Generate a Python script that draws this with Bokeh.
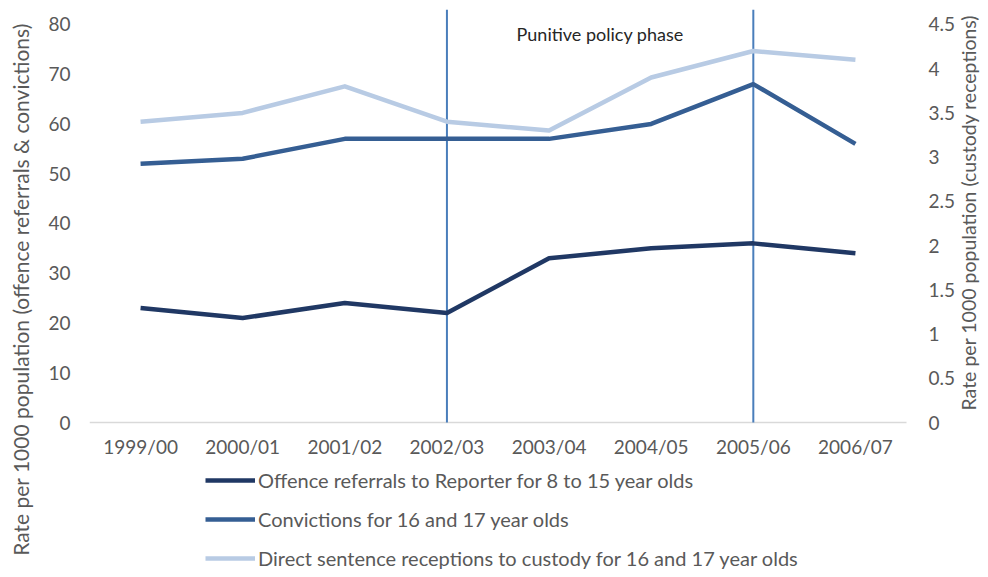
import math
from bokeh.plotting import figure
from bokeh.models import (Range1d, FixedTicker, Label, Legend, LegendItem)
from bokeh.embed import file_html
from bokeh.resources import INLINE
from bokeh.core.properties import value

# ---- data ----
years = ["1999/00", "2000/01", "2001/02", "2002/03",
         "2003/04", "2004/05", "2005/06", "2006/07"]
referrals = [23, 21, 24, 22, 33, 35, 36, 34]
convictions = [52, 53, 57, 57, 57, 60, 68, 56]
custody = [3.4, 3.5, 3.8, 3.4, 3.3, 3.9, 4.2, 4.1]
left_ticks = [0, 10, 20, 30, 40, 50, 60, 70, 80]
right_ticks = [0, 0.5, 1, 1.5, 2, 2.5, 3, 3.5, 4, 4.5]
right_tick_labels = ["0", "0.5", "1", "1.5", "2", "2.5", "3", "3.5", "4", "4.5"]
phase_bounds = ["2002/03", "2005/06"]
phase_label = "Punitive policy phase"
series_names = ["Offence referrals to Reporter for 8 to 15 year olds",
                "Convictions for 16 and 17 year olds",
                "Direct sentence receptions to custody for 16 and 17 year olds"]
left_title = "Rate per 1000 population (offence referrals & convictions)"
right_title = "Rate per 1000 population (custody receptions)"

FONT = "Lato"
GREY = "#595959"
W, H = 980, 569
TOP, LEFT = 9, 89
PLOT_W = 817                      # pixels occupied by the category slots
PLOT_H = 413                      # pixels between the top of the frame and the zero line
BELOW = H - TOP - PLOT_H          # room under the zero line (x labels + legend)
Y_TOP = 83.0
Y_BOT = -Y_TOP * BELOW / PLOT_H
R_SCALE = 4.5 / 80.0
N = len(years)
X_END = N * (W - LEFT) / PLOT_W

# category centres on a numeric scale (slot i is centred at i + 0.5)
xs = [i + 0.5 for i in range(N)]
phase_xs = [years.index(b) + 0.5 for b in phase_bounds]

p = figure(width=W, height=H, x_range=Range1d(0, X_END),
           y_range=Range1d(Y_BOT, Y_TOP), output_backend="svg",
           toolbar_location=None, min_border_left=LEFT, min_border_right=0,
           min_border_top=TOP, min_border_bottom=0)
p.outline_line_color = None
p.xgrid.grid_line_color = None
p.ygrid.grid_line_color = None
p.xaxis.visible = False
p.extra_y_ranges = {"r": Range1d(Y_BOT * R_SCALE, Y_TOP * R_SCALE)}

# left axis
ya = p.yaxis[0]
ya.ticker = FixedTicker(ticks=left_ticks)
ya.axis_line_color = None
ya.major_tick_line_color = None
ya.major_tick_out = 0
ya.major_tick_in = 0
ya.minor_tick_line_color = None
ya.major_label_standoff = 19
ya.major_label_text_font = FONT
ya.major_label_text_font_size = "19px"
ya.major_label_text_color = GREY
ya.axis_label = left_title
ya.axis_label_text_font = FONT
ya.axis_label_text_font_size = "21px"
ya.axis_label_text_font_style = "normal"
ya.axis_label_text_color = GREY
ya.axis_label_standoff = 12

# right scale: tick labels and title
p.text(x=[N] * len(right_ticks), y=right_ticks, text=right_tick_labels,
       x_offset=22, y_range_name="r", text_align="left", text_baseline="middle",
       text_font=value(FONT), text_font_size="19px", text_color=GREY)
p.add_layout(Label(x=879, y=357, x_units="screen", y_units="screen",
                   text=right_title, angle=math.pi / 2, text_align="center",
                   text_baseline="middle", text_font=FONT,
                   text_font_size="19.5px", text_color=GREY))

# category axis: zero line and labels
p.segment(x0=[0], y0=[0], x1=[N], y1=[0], line_color="#d9d9d9", line_width=1.5)
p.text(x=xs, y=[0] * N, text=years, y_offset=24,
       text_align="center", text_baseline="middle", text_font=value(FONT),
       text_font_size="19px", text_color=GREY)

# phase lines
p.segment(x0=phase_xs, y0=[0, 0], x1=phase_xs, y1=[Y_TOP, Y_TOP],
          line_color="#4a7ebb", line_width=2)
p.add_layout(Label(x=sum(phase_xs) / 2, y=78, text=phase_label, text_align="center",
                   text_baseline="middle", text_font=FONT, text_font_size="18px",
                   text_color="#262626"))

# series
r1 = p.line(xs, referrals, line_color="#203864", line_width=4.5, line_join="round")
r2 = p.line(xs, convictions, line_color="#355e93", line_width=4.5, line_join="round")
r3 = p.line(xs, custody, line_color="#b8cbe4", line_width=4.5, line_join="round",
            y_range_name="r")

legend = Legend(items=[LegendItem(label=series_names[0], renderers=[r1]),
                       LegendItem(label=series_names[1], renderers=[r2]),
                       LegendItem(label=series_names[2], renderers=[r3])],
                location=(116, -1), orientation="vertical",
                glyph_width=50, glyph_height=20, label_height=20, spacing=15,
                padding=0, margin=0, border_line_color=None,
                background_fill_alpha=0, label_standoff=3,
                label_text_font=FONT, label_text_font_size="20px",
                label_text_color=GREY)
p.add_layout(legend)

open("out.html", "w").write(file_html(p, INLINE))
